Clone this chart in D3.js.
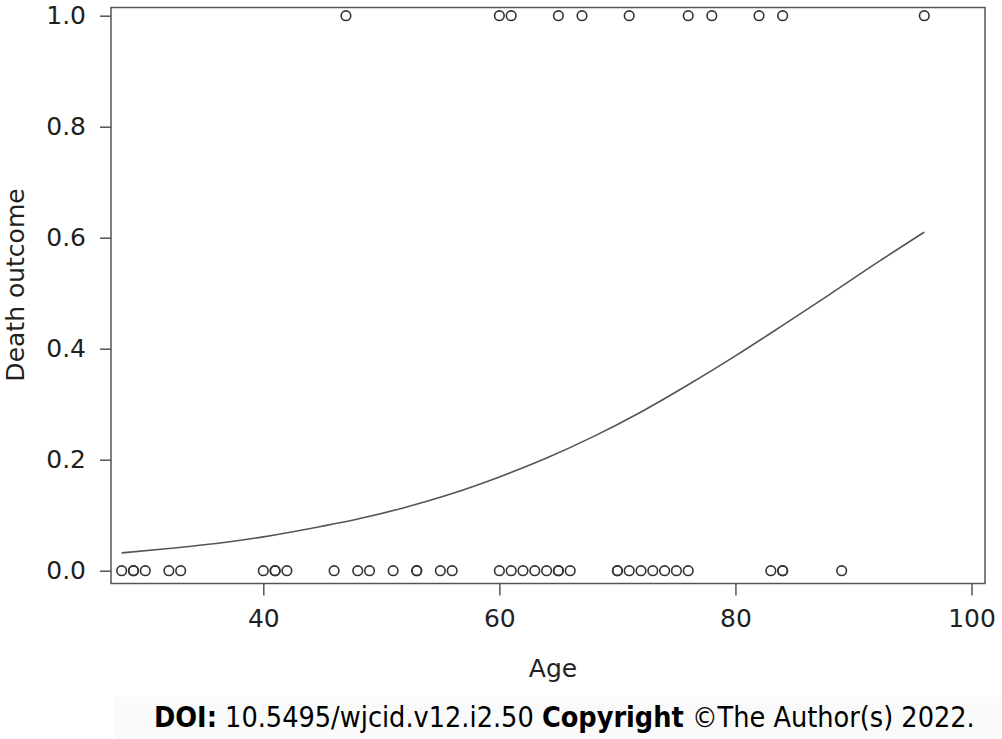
<!DOCTYPE html>
<html><head><meta charset="utf-8">
<script src="https://cdn.jsdelivr.net/npm/d3@7"></script>
<style>html,body{margin:0;padding:0;background:#fff;}svg{display:block;}</style>
</head><body>
<script>
// Observed ages with death outcome = 1
const ageDied = [47, 60, 61, 65, 67, 71, 76, 78, 82, 84, 96];
// Observed ages with death outcome = 0
const ageSurvived = [28, 29, 29, 30, 32, 33, 40, 41, 41, 42, 46, 48, 49, 51, 53, 53, 55, 56,
  60, 61, 62, 63, 64, 65, 65, 66, 70, 70, 71, 72, 73, 74, 75, 76, 83, 84, 84, 89];
// Fitted probability curve
const curveAge  = [28, 32, 36, 40, 44, 48, 52, 56, 60, 64, 68, 72, 76, 80, 84, 88, 92, 96];
const curveProb = [0.032, 0.040, 0.049, 0.061, 0.076, 0.093, 0.114, 0.139, 0.169, 0.203,
  0.242, 0.286, 0.335, 0.387, 0.442, 0.498, 0.555, 0.610];
const xTicks = [40, 60, 80, 100];
const yTicks = [0, 0.2, 0.4, 0.6, 0.8, 1.0];

const W = 1002, H = 739;
const box = {l: 111, r: 985, t: 7.5, b: 583.5};
const svg = d3.select("body").append("svg").attr("width", W).attr("height", H);
const font = "'DejaVu Sans', Verdana, sans-serif";
const txt = "#231f20", ink = "#555";

const x = d3.scaleLinear().domain([40, 100]).range([263.3, 971.5]);
const y = d3.scaleLinear().domain([0, 1]).range([570.7, 15.7]);

// footer band
svg.append("rect").attr("x", 115).attr("y", 697).attr("width", W - 115).attr("height", H - 697).attr("fill", "#fafafa");

// plot frame
svg.append("rect").attr("x", box.l).attr("y", box.t).attr("width", box.r - box.l).attr("height", box.b - box.t)
  .attr("fill", "none").attr("stroke", ink).attr("stroke-width", 1.5);

// axes
const xAxis = svg.append("g").attr("transform", `translate(0,${box.b})`)
  .call(d3.axisBottom(x).tickValues(xTicks).tickSize(12).tickPadding(14).tickFormat(d3.format("d")));
const yAxis = svg.append("g").attr("transform", `translate(${box.l},0)`)
  .call(d3.axisLeft(y).tickValues(yTicks).tickSize(11).tickPadding(14).tickFormat(d3.format(".1f")));
[xAxis, yAxis].forEach(g => {
  g.select(".domain").remove();
  g.selectAll(".tick line").attr("stroke", ink).attr("stroke-width", 1.5);
  g.selectAll("text").attr("fill", txt).style("font-family", font).style("font-size", "25px");
});

// fitted curve
const line = d3.line().x((d, i) => x(curveAge[i])).y(d => y(d)).curve(d3.curveMonotoneX);
svg.append("path").datum(curveProb).attr("d", line).attr("fill", "none")
  .attr("stroke", ink).attr("stroke-width", 1.6);

// points
const pts = ageDied.map(a => ({a, v: 1})).concat(ageSurvived.map(a => ({a, v: 0})));
svg.append("g").selectAll("circle").data(pts).join("circle")
  .attr("cx", d => x(d.a)).attr("cy", d => y(d.v)).attr("r", 4.8)
  .attr("fill", "none").attr("stroke", "#333").attr("stroke-width", 1.6);

// axis titles
svg.append("text").attr("x", 553).attr("y", 677).attr("text-anchor", "middle")
  .attr("fill", txt).style("font-family", font).style("font-size", "25px").text("Age");
svg.append("text").attr("transform", "translate(24,285) rotate(-90)").attr("text-anchor", "middle")
  .attr("fill", txt).style("font-family", font).style("font-size", "25px").text("Death outcome");

// footer
const foot = svg.append("text").attr("x", 154).attr("y", 727).attr("fill", "#000")
  .style("font-family", "'DejaVu Sans Condensed', 'DejaVu Sans', sans-serif").style("font-size", "24px");
foot.append("tspan").style("font-weight", "bold").text("DOI:");
foot.append("tspan").text(" 10.5495/wjcid.v12.i2.50 ");
foot.append("tspan").style("font-weight", "bold").text("Copyright");
foot.append("tspan").text(" \u00A9The Author(s) 2022.");
const fw = foot.node().getComputedTextLength();
foot.style("font-size", (24 * 821 / fw) + "px");
</script>
</body></html>
